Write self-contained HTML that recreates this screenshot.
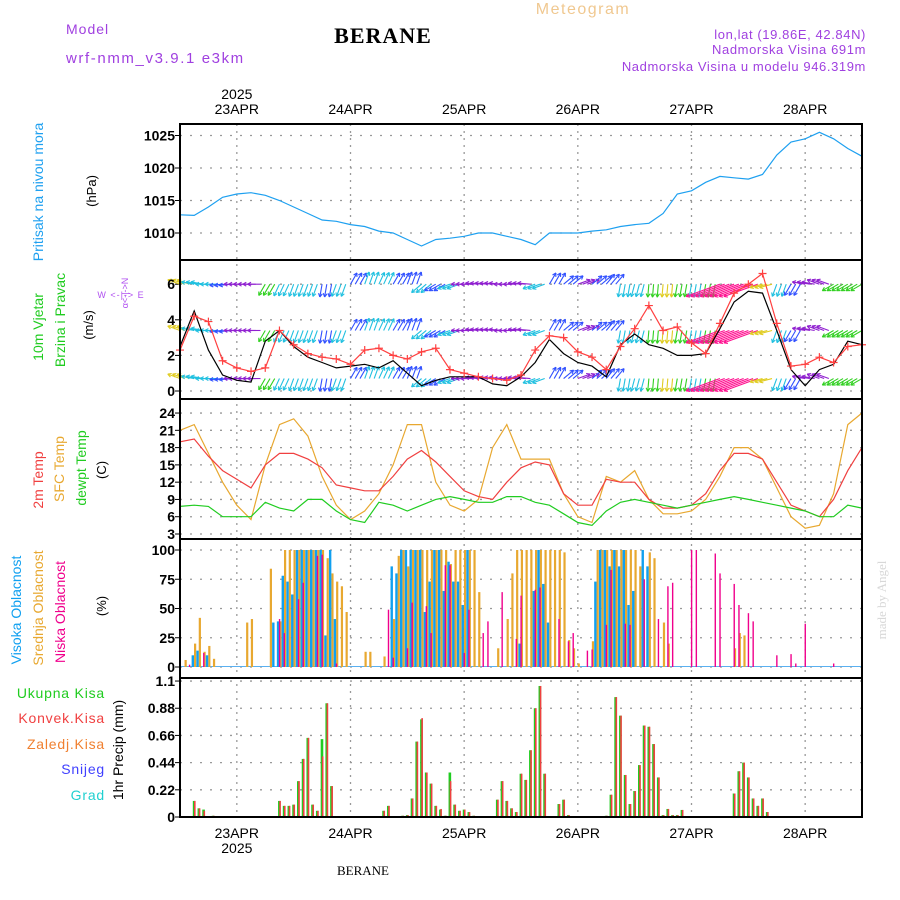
<!DOCTYPE html>
<html><head><meta charset="utf-8"><style>
html,body{margin:0;padding:0;background:#fff;}
svg{display:block;font-family:"Liberation Sans",sans-serif;}
</style></head><body>
<svg id="chart" width="900" height="900" viewBox="0 0 900 900" xmlns="http://www.w3.org/2000/svg">
<rect x="0" y="0" width="900" height="900" fill="#fff"/>
<text x="66" y="34" font-size="14" fill="#a040e0" letter-spacing="1">Model</text>
<text x="66" y="63" font-size="15" fill="#a040e0" letter-spacing="1.6">wrf-nmm_v3.9.1 e3km</text>
<text x="383" y="43" font-size="22" font-weight="bold" fill="#000" text-anchor="middle" font-family="Liberation Serif, serif" letter-spacing="1">BERANE</text>
<text x="583" y="14" font-size="16" fill="#f0c890" text-anchor="middle" letter-spacing="1.5">Meteogram</text>
<text x="866" y="39" font-size="13" fill="#a040e0" text-anchor="end" letter-spacing="0.6">lon,lat (19.86E, 42.84N)</text>
<text x="866" y="54" font-size="13" fill="#a040e0" text-anchor="end" letter-spacing="0.6">Nadmorska Visina 691m</text>
<text x="866" y="71" font-size="13" fill="#a040e0" text-anchor="end" letter-spacing="0.6">Nadmorska Visina u modelu 946.319m</text>
<text x="363" y="875" font-size="13" fill="#000" text-anchor="middle" font-family="Liberation Serif, serif">BERANE</text>
<text transform="translate(886,600) rotate(-90)" font-size="13" fill="#d8d8d8" text-anchor="middle" font-family="Liberation Serif, serif">made by Angel</text>
<g id="grid"></g><g id="marks"></g><g id="labels"></g>
</svg>
<script>
// ---- data ----
const dayLabels = ["23APR","24APR","25APR","26APR","27APR","28APR"];
const dayHours = [12,36,60,84,108,132];
const pressure3h = [1012.8,1012.7,1014,1015.5,1016,1016.2,1015.8,1015,1014,1013,1012,1011.8,1011.3,1011,1010.3,1010,1009,1008,1009,1009.2,1009.5,1010,1010,1009.5,1009,1008.2,1010,1010,1010,1010.3,1010.5,1011,1011.3,1011.5,1013,1016,1016.5,1017.8,1018.7,1018.5,1018.3,1019,1022,1024,1024.5,1025.5,1024.5,1023,1021.8];
const windSpeed3h = [2.5,4.5,2.3,0.9,0.6,0.5,2.8,3.4,2.5,1.9,1.6,1.3,1.4,1.5,1.3,1.7,1.0,0.3,0.6,0.8,0.8,0.8,0.4,0.3,0.8,1.6,2.9,2.1,1.6,1.4,0.8,2.6,3.2,2.6,2.4,2.0,2.0,2.1,3.5,5.0,5.6,5.5,3.4,1.2,0.3,1.2,1.5,2.8,2.6];
const windGust3h = [2.3,4.2,3.9,1.7,1.3,1.1,1.3,3.4,2.6,2.1,1.9,1.8,1.5,2.3,2.4,2.0,1.8,2.2,2.4,1.2,1.0,0.8,0.7,0.6,0.9,2.3,3.1,3.0,2.2,1.9,1.2,2.5,3.5,4.8,3.4,3.6,2.7,2.1,3.8,5.5,6.0,6.6,3.8,1.4,1.5,1.9,1.6,2.5,2.6];
const windDir3h = [200,190,180,175,180,180,120,115,110,110,100,110,300,290,295,300,290,140,150,160,180,185,185,180,185,160,300,320,340,320,310,100,105,95,95,100,100,100,160,160,160,165,110,120,190,200,150,150,150];
const windClass3h = [4,2,2,1,0,0,3,2,2,2,1,2,1,2,2,1,1,2,1,2,0,0,0,0,0,2,1,1,0,1,1,2,2,3,4,3,2,3,5,5,5,4,2,1,0,0,3,3,3];
const windLevels = [6.0,3.4,0.7];
const temp2m3h = [19,19.5,16.5,14,12.5,11,15,17,17,16,14.5,11.5,11,10.5,10.5,13,16,17.5,15.5,13,10.5,9.5,9,12,14.5,15.5,15,10,8,8,12.5,12,12,9,7.5,7.5,8,10,14,17,17,16,12,8,7,6,9,14,18];
const tempSfc3h = [21,22,17,12,8,5.5,15,22,23,20,13,8,5.5,7,10,15,22,22,12,8,7,9,18,22,16,16,16,10,6,5,13,12,14,9,6.5,6.5,7,9,13,18,18,16,11,6,4,4.5,10,22,24];
const dewpt3h = [7.8,8,7.8,6,6,6,8.5,7.5,7,9,9,7,5.5,5,8.5,8,7,8,9,9.5,9,8.5,8.5,9.5,9.5,8.5,8,6.5,5,4.5,7,8.5,9,8.5,8,7.5,8,8.5,9,9.5,9,8.5,8,7.5,7,6,6,8,7.5];
const cloudHigh = [0,0,0,10,14,0,10,0,0,0,0,0, 0,0,0,0,0,0,0,0,38,39,78,73, 62,100,100,100,100,100,100,27,100,41,0,0, 0,0,0,0,0,0,0,0,0,86,80,100, 100,100,100,100,47,73,100,100,65,90,73,73, 53,100,0,0,0,0,0,0,0,0,0,0, 20,0,0,65,100,71,38,0,0,0,0,0, 0,0,0,0,73,100,100,86,100,86,100,53, 65,0,100,86,0,0,0,0,0,0,0,0, 0,0,0,0,0,0,0,0,0,0,0,0, 0,0,0,0,0,0,0,0,0,0,0,0, 0,0,0,0,0,0,0,0,0,0,0,0];
const cloudMid = [0,6,0,20,42,13,18,7,0,0,0,0, 0,0,38,41,0,0,0,84,0,39,100,100, 100,100,100,100,100,100,100,93,80,73,69,47, 0,0,0,13,13,0,0,9,0,41,95,100, 86,100,100,100,100,100,100,100,100,88,100,100, 100,100,100,64,0,0,0,16,0,41,80,100, 100,100,100,100,100,100,100,100,100,98,23,16, 3,0,0,22,100,100,100,100,100,100,100,100, 100,86,0,98,93,0,38,20,0,0,0,0, 0,0,0,0,0,0,0,0,0,16,29,27, 0,0,0,0,0,0,0,0,0,0,0,0, 0,0,0,0,0,0,0,0,0,0,0,0];
const cloudLow = [0,0,2,0,0,12,0,0,0,0,0,0, 0,0,0,0,0,0,0,0,0,41,29,0, 0,58,72,0,0,95,96,0,0,3,0,0, 0,0,0,0,0,0,0,0,49,8,0,0, 16,55,0,0,52,29,0,0,87,87,0,0, 12,49,0,0,29,39,0,0,64,0,0,24, 61,0,0,66,68,0,0,0,41,0,22,29, 0,0,14,15,0,0,36,83,0,0,37,36, 0,0,75,0,0,41,0,69,72,0,0,0, 100,100,0,0,0,97,80,0,0,71,53,0, 46,39,0,0,0,0,10,0,0,11,3,0, 37,0,0,0,0,0,3,0,0,0,0,0];
const precipTotal = [0,0,0,0.13,0.07,0.06,0,0.01,0,0,0,0, 0,0,0,0,0,0,0,0,0,0.13,0.09,0.09, 0.10,0.29,0.47,0.64,0.10,0.05,0.63,0.92,0.25,0,0,0, 0,0,0,0,0,0,0,0.05,0.09,0,0.003,0.01, 0.015,0.15,0.61,0.79,0.36,0.27,0.09,0.06,0.01,0.36,0.10,0.05, 0.06,0.04,0.01,0,0,0,0,0.14,0.29,0.13,0.07,0.04, 0.35,0.30,0.54,0.88,1.06,0.35,0.005,0,0.105,0.14,0.015,0, 0,0,0,0,0,0,0.01,0.18,0.97,0.82,0.34,0.105, 0.21,0.42,0.74,0.73,0.59,0.32,0.015,0.065,0.015,0.015,0.057,0, 0,0,0,0.008,0,0,0,0,0,0.19,0.37,0.44, 0.32,0.15,0.09,0.15,0.04,0.005,0,0,0,0,0,0, 0,0,0,0,0,0,0,0,0,0,0,0];
const precipConv = [0,0,0,0.13,0.07,0.05,0,0.01,0,0,0,0, 0,0,0,0,0,0,0,0,0,0.13,0.09,0.09, 0.10,0.29,0.47,0.64,0.10,0.05,0.49,0.92,0.25,0,0,0, 0,0,0,0,0,0,0,0.05,0.09,0,0.003,0.01, 0.015,0.15,0.61,0.80,0.36,0.27,0.09,0.065,0.01,0.29,0.10,0.05, 0.06,0.04,0.01,0,0,0,0,0.14,0.29,0.13,0.07,0.04, 0.35,0.30,0.54,0.88,1.06,0.35,0.005,0,0.105,0.14,0.015,0, 0,0,0,0,0,0,0.01,0.18,0.97,0.82,0.34,0.105, 0.21,0.42,0.74,0.73,0.59,0.32,0.015,0.065,0.015,0.015,0.057,0, 0,0,0,0.008,0,0,0,0,0,0.19,0.37,0.44, 0.32,0.15,0.09,0.15,0.04,0.005,0,0,0,0,0,0, 0,0,0,0,0,0,0,0,0,0,0,0];
const pTicks = [1010,1015,1020,1025];
const wTicks = [0,2,4,6];
const tTicks = [3,6,9,12,15,18,21,24];
const cTicks = [0,25,50,75,100];
const rTicks = [0,0.22,0.44,0.66,0.88,1.1];
const rTickLabels = ["0","0.22","0.44","0.66","0.88","1.1"];

// ---- axes ----
const NS="http://www.w3.org/2000/svg";
const X0=180, X1=862, HOURS=144;
const X = h => X0 + h*(X1-X0)/HOURS;
const YP = p => 233-(p-1010)*6.5;
const YW = v => 391-v*17.8;
const YT = t => 534-(t-3)*5.76;
const YC = c => 667-c*1.17;
const YR = r => 817-r*123.6;
const panels = [[124,260],[260,399],[399,539],[539,678],[678,817]];
const grid=document.getElementById('grid'), marks=document.getElementById('marks'), labels=document.getElementById('labels');
function mk(tag, attrs, parent){const e=document.createElementNS(NS,tag);for(const k in attrs)e.setAttribute(k,attrs[k]);parent.appendChild(e);return e;}
function txt(s, attrs, parent){const e=mk('text',attrs,parent);e.textContent=s;return e;}

// vertical day gridlines
dayHours.forEach((h,i)=>{
  const l=mk('line',{x1:X(h),x2:X(h),y1:124,y2:817,stroke:'#999','stroke-width':1.3,'stroke-dasharray':'2,5'},grid);
  
  
  const t=txt(dayLabels[i],{x:X(h),y:114,'font-size':14,'text-anchor':'middle',fill:'#000'},labels);
  
  
  const b=txt(dayLabels[i],{x:X(h),y:838,'font-size':14,'text-anchor':'middle',fill:'#000'},labels);
  
  
});
const yr1=txt('2025',{x:X(12),y:99,'font-size':14,'text-anchor':'middle'},labels);


const yr2=txt('2025',{x:X(12),y:853,'font-size':14,'text-anchor':'middle'},labels);



function yAxis(ticks, fy, tlabels, name){
  ticks.forEach((v,i)=>{
    const y=fy(v);
    const g=mk('line',{x1:X0,x2:X1,y1:y,y2:y,stroke:'#999','stroke-width':1.3,'stroke-dasharray':'2,8'},grid);
    
    
    mk('line',{x1:X0-5,x2:X0,y1:y,y2:y,stroke:'#000','stroke-width':1},grid);
    const t=txt(tlabels?tlabels[i]:String(v),{x:X0-5,y:y+5,'font-size':14,'font-weight':'bold','text-anchor':'end'},labels);
    
    
  });
}
yAxis(pTicks,YP,null,'pressure');
yAxis(wTicks,YW,null,'wind');
yAxis(tTicks,YT,null,'temp');
yAxis(cTicks,YC,null,'cloud');
yAxis(rTicks,YR,rTickLabels,'precip');

// ---- series ----
function line(arr, fy, color, name, w){
  const pts=arr.map((v,i)=>X(i*3).toFixed(1)+','+fy(v).toFixed(1)).join(' ');
  const p=mk('polyline',{points:pts,fill:'none',stroke:color,'stroke-width':w||1.2},marks);
  
  
}
line(pressure3h,YP,'#1ea0f0','pressure-line');

// wind arrows
const windColors=['#9020d0','#3050ff','#20c0e0','#30d020','#e0cc20','#ff1090'];
windLevels.forEach(lv=>{
  const y0=YW(lv);
  for(let h=0;h<=HOURS;h++){
    const i=Math.min(48,Math.floor(h/3));
    const cls=windClass3h[i];
    const a=windDir3h[i]*Math.PI/180;
    const L=cls===5?36:13;
    const x0=X(h), x1=x0+L*Math.cos(a), y1=y0+L*Math.sin(a);
    const g=mk('g',{stroke:windColors[cls],'stroke-width':1.1,fill:'none'},marks);
    
    
    mk('line',{x1:x0,y1:y0,x2:x1,y2:y1},g);
    const hl=4;
    [a+Math.PI-0.5,a+Math.PI+0.5].forEach(b=>mk('line',{x1:x1,y1:y1,x2:x1+hl*Math.cos(b),y2:y1+hl*Math.sin(b)},g));
  }
});
line(windSpeed3h,YW,'#000','wind-speed-line');
line(windGust3h,YW,'#ff4040','wind-gust-line');
windGust3h.forEach((v,i)=>{
  const x=X(i*3), y=YW(v);
  const m=mk('path',{d:`M${x-4},${y}H${x+4}M${x},${y-4}V${y+4}`,stroke:'#ff4040','stroke-width':1.2},marks);
  
  
});

line(tempSfc3h,YT,'#e8a830','sfc-temp-line');
line(temp2m3h,YT,'#f04040','temp-2m-line');
line(dewpt3h,YT,'#20cc20','dewpoint-line');

// cloud bars
mk('line',{x1:X0,x2:X1,y1:YC(0)-0.5,y2:YC(0)-0.5,stroke:'#5ab0f0','stroke-width':1},marks);
function bars(arr, fy, color, dx, w, name){
  arr.forEach((v,h)=>{
    if(v<=0) return;
    const y=fy(v), y0=fy(0);
    const r=mk('rect',{x:X(h)+dx,y:y,width:w,height:Math.max(0.5,y0-y),fill:color},marks);
    
    
  });
}
bars(cloudMid,YC,'#e8a830',-0.2,2.2,'mid-cloud-bar');
bars(cloudHigh,YC,'#10a0f0',-2.6,2.4,'high-cloud-bar');
bars(cloudLow,YC,'#f0008c',-0.6,1.4,'low-cloud-bar');

// precip bars
bars(precipTotal,YR,'#20cc20',-1.4,2.6,'total-precip-bar');
bars(precipConv,YR,'#f04040',-0.2,1.6,'convective-precip-bar');
mk('line',{x1:X0,x2:X1,y1:YR(0)-0.5,y2:YR(0)-0.5,stroke:'#000','stroke-width':1,'stroke-dasharray':'4,2'},marks);

// panel frames
panels.forEach(([a,b])=>{
  const r=mk('rect',{x:X0,y:a,width:X1-X0,height:b-a,fill:'none',stroke:'#000','stroke-width':2},marks);
  
  
});

// ---- axis titles ----
function vtext(s,x,y,color,size,name){
  const t=txt(s,{transform:`translate(${x},${y}) rotate(-90)`,'font-size':size,fill:color,'text-anchor':'middle'},labels);
  
  
}
vtext('Pritisak na nivou mora',43,192,'#1ea0f0',14,'pressure-title');
vtext('(hPa)',96,191,'#000',13,'pressure-unit');
vtext('10m Vjetar',43,327,'#20cc20',14,'wind-title');
vtext('Brzina i Pravac',65,320,'#20cc20',14,'wind-subtitle');
vtext('(m/s)',93,325,'#000',13,'wind-unit');
vtext('α<-|->N',128,293,'#b050f0',9,'compass-vertical');
const cw=txt('W <-|-> E',{x:121,y:298,'font-size':9,fill:'#b050f0','text-anchor':'middle','letter-spacing':'1'},labels);


vtext('2m Temp',43,480,'#f04040',14,'temp-2m-title');
vtext('SFC Temp',64,469,'#e8a830',14,'sfc-temp-title');
vtext('dewpt Temp',86,468,'#20cc20',14,'dewpt-title');
vtext('(C)',106,470,'#000',13,'temp-unit');
vtext('Visoka Oblacnost',21,610,'#10a0f0',14,'high-cloud-title');
vtext('Srednja Oblacnost',43,608,'#e8a830',14,'mid-cloud-title');
vtext('Niska Oblacnost',65,612,'#f0008c',14,'low-cloud-title');
vtext('(%)',106,606,'#000',13,'cloud-unit');
vtext('1hr Precip (mm)',123,750,'#000',14,'precip-title');
const leg=[['Ukupna  Kisa','#20cc20',698],['Konvek.Kisa','#f04040',723],['Zaledj.Kisa','#f08030',749],['Snijeg','#4040ff',774],['Grad','#20d0d0',800]];
leg.forEach(([s,c,y])=>{
  const t=txt(s,{x:105,y:y,'font-size':14,fill:c,'text-anchor':'end','letter-spacing':'0.8'},labels);
  
  
});
</script>
</body></html>
